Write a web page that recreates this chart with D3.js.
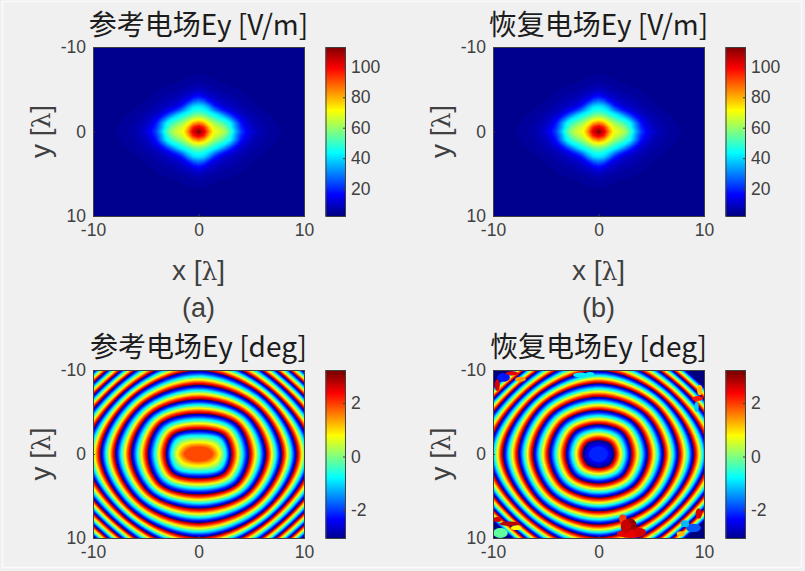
<!DOCTYPE html>
<html>
<head>
<meta charset="utf-8">
<script src="https://cdn.jsdelivr.net/npm/d3@7"></script>
<style>
  html, body { margin: 0; padding: 0; background: #f0f0f0; }
  svg { display: block; }
  text { fill: #404040; font-family: "Liberation Sans", Arial, sans-serif; }
  text.title { fill: #1c1c1c; font-family: "Noto Sans CJK SC", sans-serif; }
  text tspan.sym { font-family: "DejaVu Serif", serif; }
</style>
</head>
<body>
<div id="chart"></div>
<script>
// NOTE: the values here are eye estimates, not the original field data.
// - The two magnitude panels share one grid, read off the picture and assumed
//   symmetric about both axes; (b) is not read separately.
// - The phase panels are not per-cell data. Only the contour sizes below are read
//   off the picture; the levels between them are interpolated by a d3 scale, and the
//   defects in (b) are approximated with ellipses.

// axis ticks
const xyTicks = [-10, 0, 10];
const ampTicks = [20, 40, 60, 80, 100];
const phaseTicks = [-2, 0, 2];

// jet colour stops (position on the colour bar, colour)
const jetPos = [0, 0.11, 0.125, 0.375, 0.625, 0.875, 1];
const jetColors = ['#00007f', '#0000f0', '#0000ff', '#00ffff', '#ffff00', '#ff0000', '#7f0000'];

// |Ey|, one quadrant, 0.5 lambda steps (rows: |y|, columns: |x|)
const ampQuadrant = [
  [113,104,84,70,67,62,52,37,24,16,12,9,7,6,5,5,4,4,4,3,3],
  [104,96,78,67,63,57,47,33,21,14,10,8,7,6,5,5,4,4,4,3,3],
  [85,80,69,61,56,50,44,31,18,12,9,7,6,5,5,4,4,4,3,3,3],
  [68,66,59,52,46,42,33,22,14,10,8,6,6,5,5,4,4,4,3,3,3],
  [56,54,48,44,38,29,21,14,10,8,7,6,5,5,4,4,4,3,3,3,3],
  [47,45,40,31,23,17,13,10,8,7,6,5,5,4,4,4,3,3,3,3,3],
  [41,39,31,20,14,11,9,8,7,6,5,5,4,4,4,3,3,3,3,3,3],
  [30,27,19,13,10,9,8,7,6,5,5,4,4,4,3,3,3,3,3,3,3],
  [20,17,12,10,8,7,6,6,5,5,4,4,4,3,3,3,3,3,3,3,3],
  [13,11,9,8,7,6,6,5,5,4,4,4,3,3,3,3,3,3,3,3,3],
  [9,8,7,6,6,5,5,5,4,4,4,3,3,3,3,3,3,3,3,3,3],
  [7,6,6,5,5,5,4,4,4,4,3,3,3,3,3,3,3,3,3,3,3],
  [6,5,5,5,4,4,4,4,4,3,3,3,3,3,3,3,3,3,3,3,3],
  [5,5,4,4,4,4,4,4,3,3,3,3,3,3,3,3,3,3,3,3,3],
  [4,4,4,4,4,4,4,3,3,3,3,3,3,3,3,3,3,3,3,3,3],
  [4,4,4,4,4,4,3,3,3,3,3,3,3,3,3,3,3,3,3,3,3],
  [4,4,4,4,4,3,3,3,3,3,3,3,3,3,3,3,3,3,3,3,3],
  [4,4,4,4,3,3,3,3,3,3,3,3,3,3,3,3,3,3,3,3,3],
  [4,4,4,3,3,3,3,3,3,3,3,3,3,3,3,3,3,3,3,3,3],
  [3,3,3,3,3,3,3,3,3,3,3,3,3,3,3,3,3,3,3,3,3],
  [3,3,3,3,3,3,3,3,3,3,3,3,3,3,3,3,3,3,3,3,3]
];

// phase contours: unwrapped phase, half width on x, half height on y,
// corner point on x. The -3.14, -9.42 ... entries are the wrap rings
const refPhase = [1.95, 1.0, 0, -0.9, -3.14, -9.42, -15.71, -21.99, -28.27, -34.56, -40.84, -47.12, -53.41, -59.69];
const refRx = [1.3, 1.9, 2.3, 2.6, 3.1, 4.8, 6.4, 7.9, 9.3, 10.7, 12.0, 13.2, 14.4, 15.6];
const refRy = [0.8, 1.3, 1.8, 2.2, 2.9, 4.8, 6.5, 8.2, 9.9, 11.4, 12.9, 14.3, 15.7, 17.0];
const refDx = [0.9, 1.4, 1.75, 2.05, 2.4, 3.6, 4.6, 5.5, 6.3, 7.0, 7.7, 8.3, 8.9, 9.5];

// same for panel (b)
const recPhase = [-2.1, -3.14, -9.42, -15.71, -21.99, -28.27, -34.56, -40.84, -47.12, -53.41, -59.69];
const recRx = [0.8, 1.5, 3.1, 4.7, 6.2, 7.6, 9.05, 10.4, 11.7, 13.0, 14.2];
const recRy = [0.8, 1.65, 3.5, 5.2, 6.8, 8.4, 9.9, 11.4, 12.8, 14.2, 15.5];
const recDx = [0.55, 1.1, 2.3, 3.4, 4.4, 5.3, 6.1, 6.8, 7.5, 8.1, 8.7];

// broken spots in the recovered phase (x, y, half width, half height, phase)
const defectX = [3.05, 3.05, 2.3, 3.9, 2.6, -1.7, -0.8, 9.4, 9.3, 9.6, 9.5, 9.0, 8.2, 7.8, -9.0, -8.2, -7.4, -9.6, -9.3, -8.4, -9.6, -7.8];
const defectY = [8.6, 9.5, 7.7, 9.3, 8.6, -9.4, -9.5, -6.6, -5.6, -7.6, 7.1, 8.8, 8.3, 9.5, -9.1, -9.6, -8.9, -8.2, 9.4, 8.3, 7.8, 8.8];
const defectW = [0.6, 1.3, 0.35, 0.6, 0.5, 0.7, 0.4, 0.5, 0.2, 0.25, 0.3, 0.7, 0.4, 0.4, 0.6, 0.6, 0.5, 0.25, 0.7, 1.0, 0.4, 0.5];
const defectH = [0.9, 0.5, 0.5, 0.5, 0.8, 0.3, 0.25, 0.3, 0.6, 0.6, 0.6, 0.5, 0.4, 0.3, 0.5, 0.25, 0.3, 0.7, 0.6, 0.25, 0.3, 0.25];
const defectPhase = [3.0, 2.5, 2.0, 2.6, 2.7, -0.9, -0.9, 2.2, -1.1, 1.2, 2.6, -1.8, -1.2, 1.2, -2.2, 2.5, 1.4, 2.6, -0.2, 2.8, 2.6, 0.8];

const W = 805, H = 571;
const svg = d3.select('#chart').append('svg').attr('width', W).attr('height', H).attr('viewBox', `0 0 ${W} ${H}`);

svg.append('rect').attr('x', 2.5).attr('y', 1.5).attr('width', 799).attr('height', 566)
  .attr('fill', '#f0f0f0').attr('stroke', '#fafafa').attr('stroke-width', 1.5);

const defs = svg.append('defs');
defs.append('filter').attr('id', 'soft').attr('x', 0).attr('y', 0).attr('width', 1).attr('height', 1)
  .append('feGaussianBlur').attr('stdDeviation', 0.7).attr('edgeMode', 'duplicate');

const jetAt = d3.scaleLinear().domain(jetPos).range(jetColors).interpolate(d3.interpolateRgb);
const jetAmp = d3.scaleLinear().domain([2, 113]).range([0, 1]).clamp(true);
const jetPhase = d3.scaleLinear().domain([-Math.PI, Math.PI]).range([0, 1]).clamp(true);
const ampColor = v => jetAt(jetAmp(v));
const phaseColor = v => jetAt(jetPhase(v));

// mirror the quadrant into the full 41 x 41 grid
const idx = d3.range(-20, 21);
const ampGrid = idx.flatMap(r => idx.map(c => ampQuadrant[Math.abs(r)][Math.abs(c)]));

function frame(id, left, top, width, height) {
  const x = d3.scaleLinear().domain([-10, 10]).range([left, left + width]);
  const y = d3.scaleLinear().domain([-10, 10]).range([top, top + height]);
  defs.append('clipPath').attr('id', id).append('rect')
    .attr('x', left).attr('y', top).attr('width', width).attr('height', height);
  const g = svg.append('g');
  const plot = g.append('g').attr('clip-path', `url(#${id})`);
  return { x, y, g, plot };
}

function labelText(sel, prefix) {
  sel.append('tspan').text(prefix + ' [');
  sel.append('tspan').attr('class', 'sym').attr('font-size', 25).text('λ');
  sel.append('tspan').text(']');
}

function axes(p, left, top, width, height, showXLabel) {
  const xAxis = p.g.append('g').attr('transform', `translate(0,${top + height})`)
    .call(d3.axisBottom(p.x).tickValues(xyTicks).tickSize(-2).tickPadding(8).tickFormat(String));
  const yAxis = p.g.append('g').attr('transform', `translate(${left},0)`)
    .call(d3.axisLeft(p.y).tickValues(xyTicks).tickSize(-2).tickPadding(7).tickFormat(String));
  [xAxis, yAxis].forEach(a => {
    a.attr('font-family', null);
    a.selectAll('text').attr('font-size', 17.5);
    a.selectAll('line, path').attr('stroke', '#404040');
  });
  p.g.append('rect').attr('x', left + 0.5).attr('y', top + 0.5).attr('width', width).attr('height', height)
    .attr('fill', 'none').attr('stroke', '#404040').attr('stroke-width', 1);

  const mid = top + height / 2;
  labelText(p.g.append('text').attr('transform', `translate(${left - 43},${mid}) rotate(-90)`)
    .attr('text-anchor', 'middle').attr('font-size', 28), 'y');
  if (showXLabel) {
    labelText(p.g.append('text').attr('x', left + width / 2).attr('y', top + height + 64)
      .attr('text-anchor', 'middle').attr('font-size', 28), 'x');
  }
}

function colorbar(left, top, width, height, domain, ticks, color) {
  const y = d3.scaleLinear().domain(domain).range([top + height, top]);
  const rows = d3.range(0, height, 1);
  svg.append('g').selectAll('rect').data(rows).join('rect')
    .attr('x', left).attr('y', d => top + d).attr('width', width).attr('height', 1.3)
    .attr('fill', d => color(y.invert(top + d + 0.5)));
  const a = svg.append('g').attr('transform', `translate(${left + width},0)`)
    .call(d3.axisRight(y).tickValues(ticks).tickSize(-2).tickPadding(6).tickFormat(String));
  a.attr('font-family', null);
  a.selectAll('text').attr('font-size', 17.5);
  a.selectAll('line').attr('stroke', '#404040');
  a.select('.domain').remove();
  svg.append('rect').attr('x', left + 0.5).attr('y', top + 0.5).attr('width', width).attr('height', height)
    .attr('fill', 'none').attr('stroke', '#404040');
}

function ampPanel(id, left, top, title, sub) {
  const width = 211, height = 169;
  const p = frame(id, left, top, width, height);
  p.plot.append('rect').attr('x', left).attr('y', top).attr('width', width).attr('height', height)
    .attr('fill', ampColor(3));
  const contours = d3.contours().size([41, 41]).thresholds(d3.range(3, 114, 1.5))(ampGrid);
  const proj = d3.geoTransform({
    point(cx, cy) { this.stream.point(p.x((cx - 0.5) / 2 - 10), p.y((cy - 0.5) / 2 - 10)); }
  });
  const path = d3.geoPath(proj);
  p.plot.append('g').attr('filter', 'url(#soft)').selectAll('path').data(contours).join('path')
    .attr('d', path).attr('fill', d => ampColor(d.value + 0.75));
  axes(p, left, top, width, height, true);
  svg.append('text').attr('class', 'title').attr('x', left + width / 2).attr('y', top - 12)
    .attr('text-anchor', 'middle').attr('font-size', 28).text(title);
  svg.append('text').attr('x', left + width / 2).attr('y', top + height + 101)
    .attr('text-anchor', 'middle').attr('font-size', 27).text(sub);
  colorbar(left + 232.5, top, 19.5, height, [2, 113], ampTicks, ampColor);
}

function phasePanel(id, left, top, title, phase, rx, ry, dx, patches) {
  const width = 211, height = 168;
  const p = frame(id, left, top, width, height);
  const sRx = d3.scaleLinear().domain(phase).range(rx);
  const sRy = d3.scaleLinear().domain(phase).range(ry);
  const sDx = d3.scaleLinear().domain(phase).range(dx);
  const wrap = v => {
    const w = (v + Math.PI) % (2 * Math.PI);
    return (w < 0 ? w + 2 * Math.PI : w) - Math.PI;
  };
  const step = 2 * Math.PI / 28;
  const pMin = phase[phase.length - 1];
  const levels = d3.range(pMin, phase[0], step);
  const line = d3.line().curve(d3.curveCatmullRomClosed.alpha(0.5));
  const ring = v => {
    const a = sRx(v), b = sRy(v), d = sDx(v), e = d * b / a;
    return line([[a, 0], [d, e], [0, b], [-d, e], [-a, 0], [-d, -e], [0, -b], [d, -e]]
      .map(q => [p.x(q[0]), p.y(q[1])]));
  };
  const inner = p.plot.append('g').attr('filter', 'url(#soft)');
  inner.append('rect').attr('x', left).attr('y', top).attr('width', width).attr('height', height)
    .attr('fill', phaseColor(wrap(pMin)));
  inner.selectAll('path').data(levels).join('path')
    .attr('d', ring).attr('fill', d => phaseColor(wrap(d + step / 2)));
  if (patches) {
    inner.selectAll('ellipse').data(patches.x).join('ellipse')
      .attr('cx', d => p.x(d))
      .attr('cy', (d, i) => p.y(patches.y[i]))
      .attr('rx', (d, i) => p.x(patches.w[i]) - p.x(0))
      .attr('ry', (d, i) => p.y(patches.h[i]) - p.y(0))
      .attr('fill', (d, i) => phaseColor(patches.phase[i]));
  }
  axes(p, left, top, width, height, false);
  svg.append('text').attr('class', 'title').attr('x', left + width / 2).attr('y', top - 13)
    .attr('text-anchor', 'middle').attr('font-size', 28).text(title);
  colorbar(left + 232.5, top, 19.5, height, [-3.05, 3.24], phaseTicks, phaseColor);
}

ampPanel('c1', 93, 47, '参考电场Ey [V/m]', '(a)');
ampPanel('c2', 493, 47, '恢复电场Ey [V/m]', '(b)');
phasePanel('c3', 93, 370, '参考电场Ey [deg]', refPhase, refRx, refRy, refDx, null);
phasePanel('c4', 493, 370, '恢复电场Ey [deg]', recPhase, recRx, recRy, recDx,
  { x: defectX, y: defectY, w: defectW, h: defectH, phase: defectPhase });
</script>
</body>
</html>
